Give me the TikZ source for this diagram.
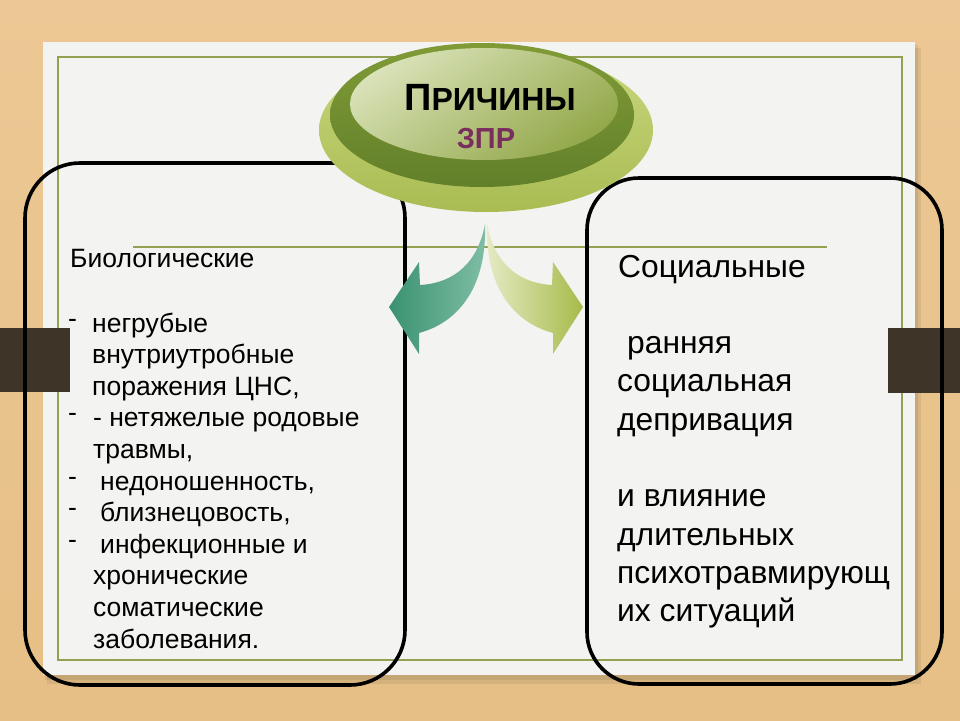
\documentclass[tikz,border=0pt]{standalone}
\usepackage{fontspec}
\setmainfont{Liberation Sans}
\definecolor{wood}{HTML}{ECC894}
\definecolor{woodd}{HTML}{E6BF86}
\definecolor{panel}{HTML}{F3F3F1}
\definecolor{oliveline}{HTML}{92A152}
\definecolor{barc}{HTML}{3E3427}
\definecolor{basel}{HTML}{C9D77F}
\definecolor{based}{HTML}{A9BC52}
\definecolor{ringl}{HTML}{809B36}
\definecolor{ringd}{HTML}{62802A}
\definecolor{innl}{HTML}{D9E2B8}
\definecolor{innd}{HTML}{93A84A}
\definecolor{tealdark}{HTML}{3A9270}
\definecolor{teallight}{HTML}{80BEA5}
\definecolor{limel}{HTML}{E6EBC6}
\definecolor{limed}{HTML}{A6BA4A}
\definecolor{zprc}{HTML}{7A2E5E}
\tikzset{
  box/.style={draw=black, line width=3.6pt, rounded corners=55pt, fill=none},
  lt/.style={anchor=base west, inner sep=0pt, font=\fontsize{26.5}{30}\selectfont},
  rt/.style={anchor=base west, inner sep=0pt, font=\fontsize{31.8}{36}\selectfont},
  gline/.style={draw=oliveline, line width=1.8pt},
}
\begin{document}
\begin{tikzpicture}[x=1pt,y=-1pt]
\useasboundingbox (0,0) rectangle (960,720);
% background
\shade[top color=wood, bottom color=woodd] (0,0) rectangle (960,720);
% panel with shadow
\fill[black,opacity=0.07] (47,48) rectangle (921,684);
\fill[black,opacity=0.07] (45,45) rectangle (918,680);
\fill[panel] (43,42) rectangle (915,675);
\draw[gline] (58,57) rectangle (902,660);
\coordinate (la) at (133,247);
\coordinate (lb) at (827,247);
\draw[gline] (la) -- (lb);
% side bars
\fill[barc] (0,328) rectangle (70,392);
\fill[barc] (888,328) rectangle (960,393);
% boxes
\node[box, minimum width=380pt, minimum height=522pt] (bio) at (215,424) {};
\node[box, minimum width=355pt, minimum height=506pt, rounded corners=52pt] (soc) at (764.5,431) {};
% title ellipse
\shade[top color=basel, bottom color=based] (486,130) ellipse [x radius=167pt, y radius=82pt];
\shade[top color=ringl, bottom color=ringd] (482,115) ellipse [x radius=152pt, y radius=72pt];
\shade[top color=innl, bottom color=innd, shading angle=35] (484,104) ellipse [x radius=134pt, y radius=56pt];
\node[anchor=base, inner sep=0pt] (title) at (490,110)
  {\bfseries\fontsize{38}{40}\selectfont П\fontsize{32}{34}\selectfont РИЧИНЫ};
\node[anchor=base, inner sep=0pt, text=zprc] (zpr) at (486,148)
  {\bfseries\fontsize{29}{32}\selectfont ЗПР};
% arrows
\coordinate (src) at (486,224);
\shade[left color=tealdark, right color=teallight]
  (485,224) .. controls (478,262) and (455,283) .. (420,285)
  -- (419,262) -- (389,307) -- (419,354) -- (419,333)
  .. controls (460,322) and (487,285) .. (485,224) -- cycle;
\shade[left color=limel, right color=limed]
  (487,224) .. controls (494,262) and (517,283) .. (552,285)
  -- (553,262) -- (583,307) -- (553,354) -- (553,333)
  .. controls (512,322) and (485,285) .. (487,224) -- cycle;
% left text
\node[lt] (b0) at (70,267) {Биологические};
\node[lt] (d1) at (68,327) {-};
\node[lt] (b1) at (92,332) {негрубые};
\node[lt] (b2) at (92,363.6) {внутриутробные};
\node[lt] (b3) at (92,395.2) {поражения ЦНС,};
\node[lt] (d2) at (68,421.8) {-};
\node[lt] (b4) at (93,426.8) {- нетяжелые родовые};
\node[lt] (b5) at (93,458.4) {травмы,};
\node[lt] (d3) at (68,485) {-};
\node[lt] (b6) at (100,490) {недоношенность,};
\node[lt] (d4) at (68,516.6) {-};
\node[lt] (b7) at (100,521.6) {близнецовость,};
\node[lt] (d5) at (68,548.2) {-};
\node[lt] (b8) at (100,553.2) {инфекционные и};
\node[lt] (b9) at (93,584.8) {хронические};
\node[lt] (b10) at (93,616.4) {соматические};
\node[lt] (b11) at (93,648) {заболевания.};
% right text
\node[rt] (s0) at (618,277) {Социальные};
\node[rt] (s1) at (627,353.6) {ранняя};
\node[rt] (s2) at (617,391.9) {социальная};
\node[rt] (s3) at (617,430.2) {депривация};
\node[rt] (s4) at (617,506.8) {и влияние};
\node[rt] (s5) at (617,545.1) {длительных};
\node[rt] (s6) at (617,583.4) {психотравмирующ};
\node[rt] (s7) at (617,621.7) {их ситуаций};
\end{tikzpicture}
\end{document}
